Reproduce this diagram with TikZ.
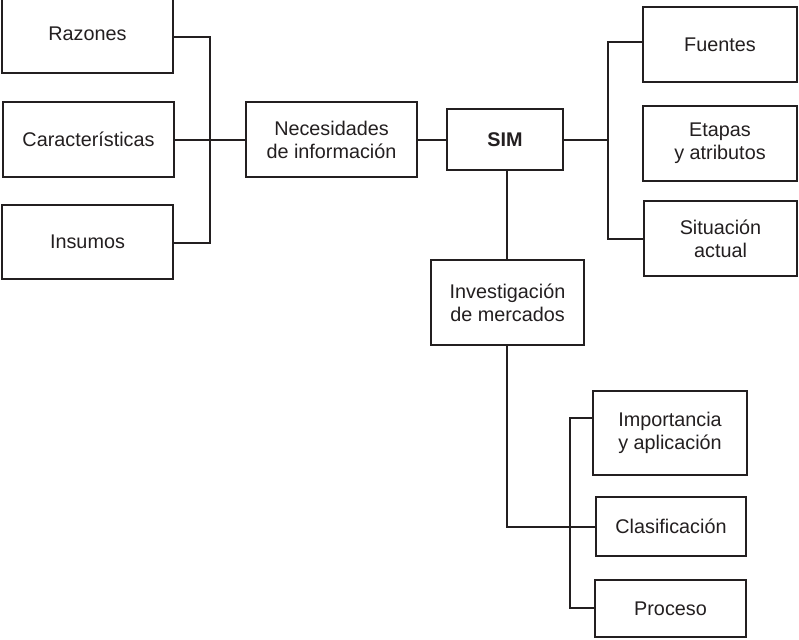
\documentclass[tikz,border=0pt]{standalone}
\usepackage{fontspec}
\setmainfont{Liberation Sans}
\definecolor{ink}{HTML}{231F20}
\begin{document}
\begin{tikzpicture}[x=1pt,y=-1pt,
  bx/.style={draw=ink, line width=1.8pt, text=ink, align=center, inner sep=0pt,
    font=\fontsize{19.8}{23}\selectfont},
  ln/.style={draw=ink, line width=1.8pt}]
\useasboundingbox (0,0) rectangle (799,639);
\fill[white] (0,0) rectangle (799,639);
% left column
\node[bx, minimum width=171pt, minimum height=78pt] (raz) at (87.5,34) {Razones};
\node[bx, minimum width=171pt, minimum height=75pt] (car) at (88.5,139.5) {Características};
\node[bx, minimum width=171pt, minimum height=74pt] (ins) at (87.5,242) {Insumos};
% middle
\node[bx, minimum width=171pt, minimum height=75pt] (nec) at (331.5,139.5) {Necesidades\\de información};
\node[bx, minimum width=116pt, minimum height=61pt, font=\fontsize{19.8}{23}\selectfont\bfseries] (sim) at (505,139.5) {SIM};
% right column
\node[bx, minimum width=154pt, minimum height=75pt] (fue) at (720,44.5) {Fuentes};
\node[bx, minimum width=154pt, minimum height=75pt] (eta) at (720,143.5) {Etapas\\y atributos};
\node[bx, minimum width=153pt, minimum height=75pt] (sit) at (720.5,238.5) {Situación\\actual};
% lower
\node[bx, minimum width=153pt, minimum height=85pt] (inv) at (507.5,302.5) {Investigación\\de mercados};
\node[bx, minimum width=154pt, minimum height=84pt] (imp) at (670,433) {Importancia\\y aplicación};
\node[bx, minimum width=150pt, minimum height=59pt] (cla) at (671,526.5) {Clasificación};
\node[bx, minimum width=151pt, minimum height=57pt] (pro) at (670.5,608.5) {Proceso};
% connectors left
\coordinate (lb) at (210,140);
\draw[ln] (raz.east |- 0,37) -| (lb) |- (ins.east |- 0,243);
\draw[ln] (car.east |- 0,140) -- (nec.west |- 0,140);
\draw[ln] (nec.east |- 0,140) -- (sim.west |- 0,140);
% connectors right
\coordinate (rb) at (608,140);
\draw[ln] (sim.east |- 0,140) -- (rb);
\draw[ln] (fue.west |- 0,42) -| (rb) |- (sit.west |- 0,239);
% down
\draw[ln] (sim.south -| 507,0) -- (inv.north -| 507,0);
\draw[ln] (inv.south -| 507,0) |- (cla.west |- 0,527);
\coordinate (bb) at (570,527);
\draw[ln] (imp.west |- 0,418) -| (bb) |- (pro.west |- 0,608);
\end{tikzpicture}
\end{document}
